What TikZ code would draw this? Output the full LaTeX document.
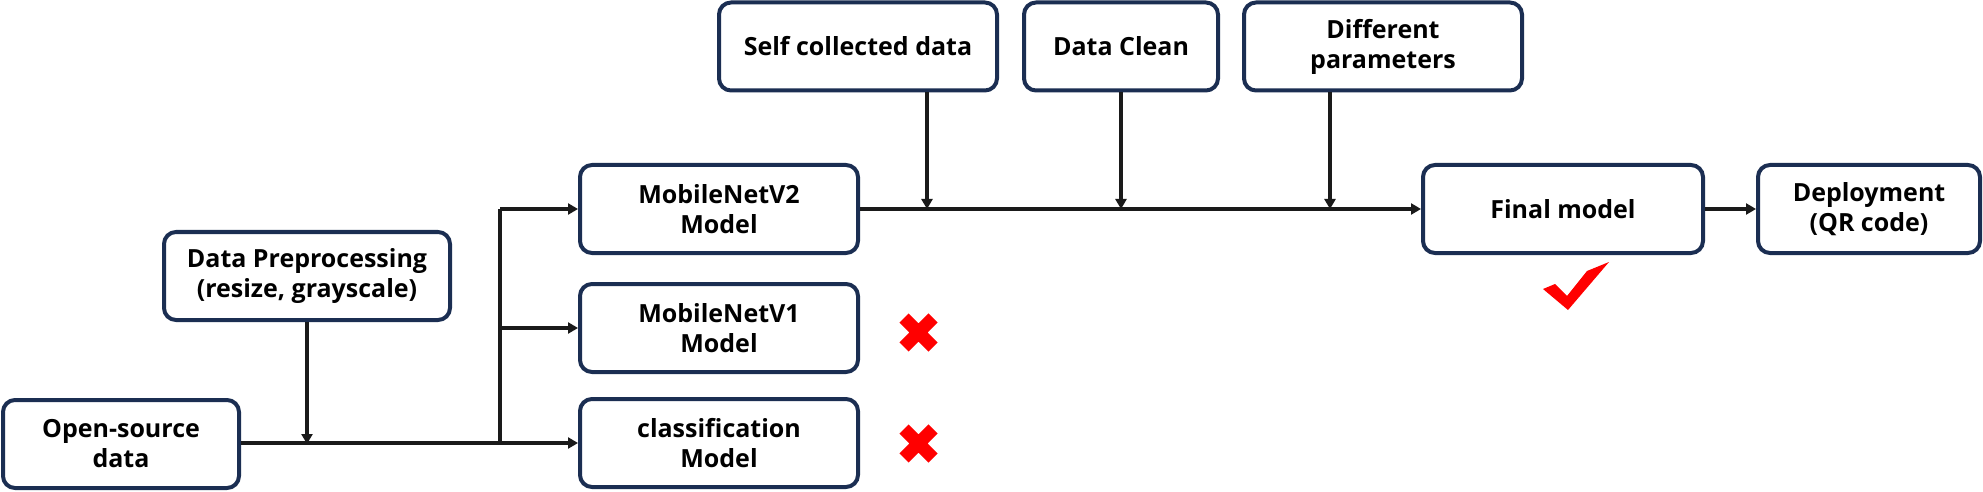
\documentclass[tikz,border=0pt]{standalone}
\usepackage{fontspec}
\setmainfont{Open Sans}[BoldFont={* Bold}]
\usetikzlibrary{arrows.meta}
\definecolor{boxline}{HTML}{1B2E52}
\definecolor{arrowc}{HTML}{1A1A1A}
\definecolor{markred}{HTML}{FF0000}
\begin{document}
\begin{tikzpicture}[x=0.5pt,y=-0.5pt,
  box/.style={draw=boxline, line width=2pt, rounded corners=6pt, fill=white,
    minimum height=44pt, align=center, inner sep=0pt,
    font=\fontsize{12.5}{15}\selectfont\bfseries},
  conn/.style={draw=arrowc, line width=1.8pt},
  arr/.style={conn, -{Triangle[length=5pt,width=5.5pt]}},
  xmark/.style={draw=markred, line width=6.5pt}]
\useasboundingbox (0,0) rectangle (1983,492);
% boxes
\node[box, minimum width=118pt] (open) at (121,444) {Open-source\\data};
\node[box, minimum width=143pt] (prep) at (307,276) {Data Preprocessing\\(resize, grayscale)};
\node[box, minimum width=139pt] (v2) at (719,209) {MobileNetV2\\Model};
\node[box, minimum width=139pt] (v1) at (719,328) {MobileNetV1\\Model};
\node[box, minimum width=139pt] (cls) at (719,443) {classification\\Model};
\node[box, minimum width=139pt] (self) at (858,46.5) {Self collected data};
\node[box, minimum width=97pt] (clean) at (1121,46.5) {Data Clean};
\node[box, minimum width=139pt] (diff) at (1383,46.5) {Different\\parameters};
\node[box, minimum width=140pt] (final) at (1563,209) {Final model};
\node[box, minimum width=111pt] (deploy) at (1869,209) {Deployment\\(QR code)};
% junction coordinates
\coordinate (jp) at (307,444);
\coordinate (br) at (500,444);
\coordinate (brtop) at (500,209);
\coordinate (brmid) at (500,328);
\coordinate (j1) at (927,209);
\coordinate (j2) at (1121,209);
\coordinate (j3) at (1330,209);
% connectors
\draw[arr] (open.east |- cls.west) -- (cls.west);
\draw[arr] (prep.south) -- (jp);
\draw[conn] (br) -- (brtop);
\draw[arr] (brtop) -- (v2.west);
\draw[arr] (brmid) -- (v1.west);
\draw[arr] (v2.east) -- (final.west);
\draw[arr] (j1 |- self.south) -- (j1);
\draw[arr] (j2 |- clean.south) -- (j2);
\draw[arr] (j3 |- diff.south) -- (j3);
\draw[arr] (final.east) -- (deploy.west);
% red crosses
\draw[xmark] (904,318) -- (933,347) (933,318) -- (904,347);
\draw[xmark] (904,429) -- (933,458) (933,429) -- (904,458);
% check mark
\fill[markred] (1543,289) -- (1555,284) -- (1567,296) -- (1587,271) -- (1609,262) -- (1568,310) -- cycle;
\end{tikzpicture}
\end{document}
